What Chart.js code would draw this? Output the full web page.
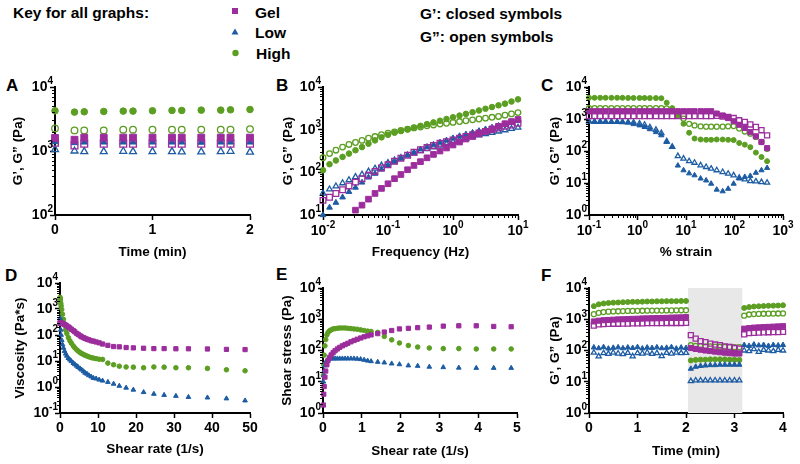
<!DOCTYPE html>
<html>
<head>
<meta charset="utf-8">
<script src="https://cdn.jsdelivr.net/npm/chart.js@4.4.1/dist/chart.umd.min.js"></script>
<style>
    body { margin: 0; width: 800px; height: 464px; background: #fff; position: relative; overflow: hidden;
           font-family: "Liberation Sans", Arial, sans-serif; font-weight: bold; color: #000; }
    .txt { position: absolute; white-space: nowrap; line-height: 1; font-size: 15.5px; }
    .letter { position: absolute; line-height: 1; font-size: 17px; }
    canvas { position: absolute; }
</style>
</head>
<body>
<div class="txt" style="left:13px; top:5px;">Key for all graphs:</div>
<div class="txt" style="left:255px; top:5px;">Gel</div>
<div class="txt" style="left:255px; top:25px;">Low</div>
<div class="txt" style="left:256px; top:45.5px;">High</div>
<div class="txt" style="left:420px; top:6px;">G’: closed symbols</div>
<div class="txt" style="left:420px; top:29px;">G”: open symbols</div>
<svg style="position:absolute; left:0; top:0;" width="300" height="70">
    <rect x="232" y="8" width="6" height="6" fill="#9c2d9c"></rect>
    <polygon points="235,28.5 238.5,34.5 231.5,34.5" fill="#1d5ca3"></polygon>
    <circle cx="235.5" cy="53" r="3.2" fill="#5b9e22"></circle>
</svg>
<div class="letter" style="left:6px; top:77px;">A</div>
<div class="letter" style="left:276px; top:77px;">B</div>
<div class="letter" style="left:541px; top:77px;">C</div>
<div class="letter" style="left:5px; top:267px;">D</div>
<div class="letter" style="left:276px; top:266px;">E</div>
<div class="letter" style="left:541px; top:267px;">F</div>

<script>
// ---- Data ---------------------------------------------------------------
// A: time sweep
const timeA   = [0, 0.2, 0.3, 0.5, 0.7, 0.8, 1.0, 1.2, 1.3, 1.5, 1.7, 1.8, 2.0];
const gelGpA  = [1600, 1500, 1620, 1620, 1620, 1620, 1620, 1620, 1620, 1620, 1620, 1620, 1620];
const gelGppA = [1350, 1220, 1300, 1300, 1300, 1300, 1300, 1300, 1300, 1300, 1300, 1300, 1300];
const lowGpA  = [1400, 1350, 1380, 1380, 1380, 1380, 1380, 1380, 1380, 1370, 1380, 1380, 1380];
const lowGppA = [1050, 1000, 980, 980, 990, 980, 980, 980, 970, 970, 980, 990, 960];
const highGpA = [4250, 4050, 4100, 4150, 4200, 4200, 4250, 4300, 4300, 4350, 4350, 4400, 4450];
const highGppA = [2250, 2100, 2100, 2100, 2150, 2150, 2150, 2150, 2150, 2150, 2150, 2150, 2200];

// B: frequency sweep
const freqB = [0.01, 0.0126, 0.0158, 0.02, 0.0251, 0.0316, 0.0398, 0.0501, 0.0631, 0.0794, 0.1,
    0.126, 0.158, 0.2, 0.251, 0.316, 0.398, 0.501, 0.631, 0.794, 1, 1.26, 1.58, 2, 2.51, 3.16,
    3.98, 5.01, 6.31, 7.94, 10];
const gelGpB = [null, null, null, null, null, 13, 17, 23.5, 32, 42, 54, 71, 89, 115, 145, 178,
    219, 263, 316, 372, 437, 513, 603, 692, 794, 912, 1047, 1202, 1380, 1549, 1738];
const gelGppB = [22, 26, 32, 39, 48, 59, 71, 85, 105, 126, 151, 182, 214, 251, 295, 339, 380,
    427, 479, 525, 575, 631, 692, 759, 832, 912, 1000, 1096, 1202, 1288, 1413];
const lowGpB = [10, 15, 19.5, 26, 35, 44, 58, 76, 93, 117, 145, 174, 209, 251, 295, 347, 398,
    447, 501, 562, 631, 708, 776, 851, 933, 1023, 1122, 1230, 1349, 1479, 1622];
const lowGppB = [32, 40, 47, 56, 66, 78, 89, 105, 123, 145, 166, 191, 219, 251, 282, 316, 355,
    389, 427, 468, 513, 562, 617, 676, 741, 794, 851, 912, 977, 1047, 1122];
const highGpB = [112, 155, 190, 230, 275, 330, 390, 470, 560, 660, 760, 850, 930, 1020, 1120,
    1230, 1350, 1480, 1620, 1780, 1950, 2140, 2340, 2570, 2820, 3090, 3390, 3720, 4070, 4570, 5130];
const highGppB = [220, 275, 330, 390, 450, 500, 560, 630, 690, 760, 830, 890, 955, 1020, 1100,
    1150, 1230, 1290, 1350, 1410, 1480, 1550, 1620, 1700, 1780, 1860, 1950, 2040, 2190, 2340, 2510];

// C: strain sweep
const strainC = [0.1, 0.13, 0.17, 0.22, 0.29, 0.38, 0.49, 0.64, 0.83, 1.1, 1.4, 1.8, 2.4, 3.1,
    4.0, 5.2, 6.8, 8.9, 11.6, 15, 20, 26, 33, 43, 57, 74, 96, 125, 163, 212, 276, 360, 470];
const gelGpC = [1750, 1750, 1750, 1750, 1750, 1750, 1750, 1750, 1750, 1750, 1750, 1750, 1750,
    1750, 1750, 1750, 1750, 1750, 1750, 1750, 1750, 1750, 1750, 1480, 1290, 1070, 851, 661, 525,
    389, 288, 191, 123];
const gelGppC = [1230, 1230, 1230, 1230, 1230, 1230, 1230, 1230, 1230, 1230, 1230, 1230, 1230,
    1230, 1230, 1230, 1230, 1230, 1230, 1230, 1230, 1230, 1230, 1260, 1200, 1150, 1070, 912, 813,
    676, 562, 447, 309];
const lowGpC = [851, 813, 813, 813, 813, 813, 813, 776, 692, 631, 562, 479, 389, 309, 191, 135,
    35, 25, 20, 17.4, 13.8, 12, 9.5, 6.2, 5.5, 6.6, 9.5, 13.8, 15.5, 16.6, 20.9, 25, 29.5];
const lowGppC = [851, 830, 830, 830, 820, 810, 800, 790, 780, 724, 661, 550, 457, 363, 200, 135,
    69, 58, 48, 43, 35.5, 31.6, 28, 25, 22, 19.5, 17.4, 14.5, 12.9, 11.5, 11.2, 10.7, 10.2];
const highGpC = [4600, 4600, 4600, 4600, 4600, 4600, 4600, 4550, 4550, 4550, 4550, 4500, 4500,
    4450, 3240, 2190, 1290, 708, 372, 245, 229, 224, 224, 229, 229, 224, 219, 178, 158, 132, 89,
    65, 48];
const highGppC = [2200, 2200, 2200, 2200, 2200, 2200, 2200, 2200, 2200, 2200, 2200, 2200, 2200,
    2200, 2140, 1860, 1480, 1020, 708, 631, 589, 575, 575, 575, 575, 589, 603, 501, 407, 347, 275,
    191, 117];

// D: viscosity vs shear rate
const rateD = [0.02, 0.05, 0.1, 0.2, 0.3, 0.45, 0.65, 0.9, 1.2, 1.5, 1.8, 2.2, 2.6, 3.0, 3.5,
    3.9, 4.4, 4.8, 5.3, 5.7, 6.2, 6.6, 7.1, 7.6, 8.2, 8.8, 9.5, 10.3, 11.2, 12.6, 14.1, 15.6,
    17.4, 19.3, 22, 24.7, 27.4, 30.5, 33.8, 38.8, 43.8, 48.7];
const gelVisD = [295, 295, 295, 290, 290, 280, 275, 270, 257, 240, 224, 204, 186, 166, 148, 132,
    115, 105, 93, 85, 79, 74, 69, 65, 60, 58, 54, 50, 45, 40, 36, 35, 33, 32, 31, 30, 30, 29.5,
    29.5, 29, 28, 27.5];
const lowVisD = [450, 355, 263, 158, 100, 63, 43, 32, 24, 19, 15.8, 12.9, 11.2, 9.8, 8.3, 7.4,
    6.5, 5.8, 5.1, 4.6, 4.0, 3.5, 3.2, 2.8, 2.5, 2.2, 2.1, 1.9, 1.74, 1.55, 1.32, 1.1, 0.93, 0.78,
    0.63, 0.54, 0.49, 0.45, 0.41, 0.39, 0.36, 0.30];
const highVisD = [2800, 2500, 2140, 1660, 1320, 955, 630, 400, 240, 158, 115, 79, 60, 48, 38, 32,
    27, 24, 21, 19.5, 17.8, 16.6, 15.5, 14.5, 13.5, 12.9, 12.3, 11.7, 11.5, 8.3, 7.2, 6.3, 5.9,
    5.8, 5.5, 5.9, 5.8, 5.5, 5.5, 5.2, 4.6, 4.2];

// E: shear stress vs shear rate
const rateE = [0.01, 0.02, 0.03, 0.05, 0.07, 0.1, 0.13, 0.17, 0.21, 0.26, 0.31, 0.37, 0.43, 0.5,
    0.57, 0.64, 0.72, 0.8, 0.88, 0.97, 1.06, 1.15, 1.24, 1.41, 1.58, 1.77, 1.97, 2.2, 2.44, 2.74,
    3.1, 3.5, 3.95, 4.4, 4.85];
const gelStressE = [1.8, 4, 7, 14, 22, 35, 48, 60, 72, 85, 98, 112, 126, 141, 155, 170, 190, 209,
    229, 251, 275, 295, 316, 347, 389, 436, 490, 513, 537, 562, 603, 617, 617, 589, 575];
const lowStressE = [10, 16, 22, 33, 42, 48, 52, 55, 55, 55, 55, 55, 55, 55, 55, 55, 55, 55, 54,
    52.5, 50, 47, 45, 43, 41, 38, 36, 33, 32, 30, 29, 28, 27.5, 27.5, 27.5];
const highStressE = [16, 35, 71, 141, 224, 316, 380, 427, 457, 490, 501, 513, 525, 525, 525, 513,
    501, 490, 479, 457, 436, 417, 407, 380, 282, 219, 174, 145, 129, 120, 115, 115, 112, 112, 112];

// F: recovery test (low / high / low strain)
const timeF = [0.1, 0.2, 0.3, 0.4, 0.5, 0.6, 0.7, 0.8, 0.9, 1.0, 1.1, 1.2, 1.3, 1.4, 1.5, 1.6,
    1.7, 1.8, 1.9, 2.0, 2.1, 2.2, 2.3, 2.4, 2.5, 2.6, 2.7, 2.8, 2.9, 3.0, 3.1, 3.2, 3.3, 3.4, 3.5,
    3.6, 3.7, 3.8, 3.9, 4.0];
const gelGpF = [850, 900, 930, 950, 970, 990, 1000, 1010, 1030, 1040, 1060, 1070, 1080, 1090,
    1100, 1110, 1130, 1140, 1150, 1170, 120, 112, 106, 100, 96, 92, 88, 85, 82, 80, 80, 500, 520,
    540, 550, 560, 570, 580, 590, 600];
const gelGppF = [630, 690, 700, 710, 720, 720, 730, 730, 740, 740, 740, 750, 750, 750, 750, 760,
    760, 760, 760, 770, 310, 240, 200, 186, 166, 155, 148, 135, 129, 120, 115, 330, 360, 370, 375,
    380, 385, 390, 390, 395];
const lowGpF = [125, 118, 128, 115, 122, 126, 118, 125, 120, 128, 116, 124, 120, 126, 118, 122,
    128, 115, 124, 120, 26, 30, 32, 33, 34, 34, 35, 35, 35, 35, 35, 150, 140, 155, 145, 150, 140,
    150, 145, 150];
const lowGppF = [85, 65, 82, 78, 85, 80, 76, 84, 65, 82, 80, 86, 78, 82, 66, 84, 80, 85, 82, 84,
    10.5, 11, 11, 11, 11, 11, 11, 11, 11, 11, 11, 100, 95, 110, 90, 105, 100, 95, 105, 100];
const highGpF = [2630, 3000, 3200, 3310, 3400, 3450, 3500, 3550, 3600, 3600, 3650, 3700, 3700,
    3750, 3750, 3800, 3800, 3800, 3850, 3850, 48, 50, 51, 51, 52, 52, 52, 52, 51, 51, 50, 2300,
    2450, 2550, 2600, 2650, 2700, 2720, 2750, 2800];
const highGppF = [1450, 1600, 1700, 1750, 1780, 1800, 1820, 1840, 1850, 1860, 1870, 1880, 1890,
    1900, 1900, 1910, 1920, 1930, 1940, 1940, 148, 140, 138, 136, 135, 133, 132, 131, 130, 128, 128,
    1300, 1420, 1460, 1480, 1500, 1510, 1520, 1530, 1540];
const highStrainF = [2.04, 3.16];   // shaded high-strain interval (min)

// Tick values
const decadesA = [1e2, 1e3, 1e4];
const decadesB = [1e1, 1e2, 1e3, 1e4];
const freqTicksB = [0.01, 0.1, 1, 10];
const decadesC = [1, 1e1, 1e2, 1e3, 1e4];
const strainTicksC = [0.1, 1, 10, 100, 1000];
const decadesD = [0.1, 1, 1e1, 1e2, 1e3, 1e4];
const decadesEF = [1, 1e1, 1e2, 1e3, 1e4];

// ---- Style ----------------------------------------------------------------
const GEL = "#9c2d9c";
const LOW = "#1d5ca3";
const HIGH = "#5b9e22";
const MINOR_LEN = 3;
const FAMILY = "'Liberation Sans', Arial, sans-serif";
const BASE_FONT = "bold 14px " + FAMILY;
const EXP_FONT = "bold 10px " + FAMILY;

Chart.defaults.font.family = FAMILY;
Chart.defaults.font.weight = "bold";
Chart.defaults.color = "#000";

// minor ticks + "10^n" labels on log axes
const logDecor = {
    id: "logDecor",
    afterDraw(chart) {
        const ctx = chart.ctx;
        ctx.save();
        ctx.strokeStyle = "#000";
        ctx.fillStyle = "#000";
        ctx.lineWidth = 1;
        ctx.textBaseline = "middle";
        ctx.textAlign = "left";
        Object.values(chart.scales).forEach((s) => {
            if (s.type !== "logarithmic") return;
            const lo = Math.round(Math.log10(s.min));
            const hi = Math.round(Math.log10(s.max));
            for (let e = lo; e < hi; e++) {
                for (let m = 2; m <= 9; m++) {
                    const p = Math.round(s.getPixelForValue(m * Math.pow(10, e))) + 0.5;
                    ctx.beginPath();
                    if (s.isHorizontal()) { ctx.moveTo(p, s.top); ctx.lineTo(p, s.top + MINOR_LEN); }
                    else { ctx.moveTo(s.right, p); ctx.lineTo(s.right - MINOR_LEN, p); }
                    ctx.stroke();
                }
            }
            s.ticks.forEach((t) => {
                const p = s.getPixelForValue(t.value);
                const exp = String(Math.round(Math.log10(t.value)));
                ctx.font = BASE_FONT;
                const w1 = ctx.measureText("10").width;
                ctx.font = EXP_FONT;
                const w2 = ctx.measureText(exp).width;
                let x, y;
                if (s.isHorizontal()) { x = p - (w1 + w2) / 2; y = s.top + 16; }
                else { x = s.right - 2 - w1 - w2; y = p; }
                ctx.font = BASE_FONT;
                ctx.fillText("10", x, y);
                ctx.font = EXP_FONT;
                ctx.fillText(exp, x + w1, y - 5.5);
            });
        });
        ctx.restore();
    },
};

// grey band behind the points (panel F)
const shade = {
    id: "shade",
    beforeDatasetsDraw(chart, args, opts) {
        if (!opts.range) return;
        const { ctx, chartArea: a, scales } = chart;
        const x0 = scales.x.getPixelForValue(opts.range[0]);
        const x1 = scales.x.getPixelForValue(opts.range[1]);
        ctx.save();
        ctx.fillStyle = opts.color;
        ctx.fillRect(x0, a.top, x1 - x0, a.bottom - a.top);
        ctx.restore();
    },
};
Chart.register(logDecor, shade);

// ---- Builders -------------------------------------------------------------
function series(xs, ys, color, style, open, r) {
    return {
        data: xs.map((x, i) => ({ x, y: ys[i] })).filter((p) => p.y != null),
        showLine: false,
        pointStyle: style,
        pointRadius: r,
        pointHoverRadius: r,
        pointBackgroundColor: open ? "rgba(255,255,255,0)" : color,
        pointBorderColor: color,
        pointBorderWidth: open ? 1.3 : 1,
        clip: false,
    };
}

function axis(isX, size, title, titlePad, extra) {
    return Object.assign({
        border: { display: true, color: "#000", width: 2 },
        grid: { display: true, drawOnChartArea: false, drawTicks: true, tickLength: 5, tickWidth: 1.5, tickColor: "#000" },
        title: { display: true, text: title, color: "#000", font: { size: 13.5, weight: "bold" },
                 padding: isX ? { top: 0, bottom: titlePad } : { top: titlePad, bottom: 0 } },
        afterFit: (s) => { if (isX) s.height = size; else s.width = size; },
    }, extra);
}

function logAxis(isX, size, title, titlePad, min, max, ticks) {
    return axis(isX, size, title, titlePad, {
        type: "logarithmic", min, max,
        afterBuildTicks: (s) => { s.ticks = ticks.map((v) => ({ value: v })); },
        ticks: { display: false },
    });
}

function linAxis(size, title, titlePad, min, max, step) {
    return axis(true, size, title, titlePad, {
        type: "linear", min, max,
        ticks: { color: "#000", font: { size: 14, weight: "bold" }, padding: 2, maxRotation: 0,
                 autoSkip: false, stepSize: step },
    });
}

// rect: canvas box [l, t, r, b]; area: plot box [l, t, r, b]; titles: [yTitleCenterX, xTitleCenterY]
function panel(rect, area, titles, xCfg, yCfg, datasets, shadeOpts) {
    const cv = document.createElement("canvas");
    cv.width = rect[2] - rect[0];
    cv.height = rect[3] - rect[1];
    cv.style.left = rect[0] + "px";
    cv.style.top = rect[1] + "px";
    document.body.appendChild(cv);
    const yW = area[0] - rect[0];
    const xH = rect[3] - area[3];
    const half = 13.5 * 1.2 / 2;
    new Chart(cv, {
        type: "scatter",
        data: { datasets },
        options: {
            responsive: false,
            animation: false,
            devicePixelRatio: 1,
            layout: { padding: { left: 0, top: area[1] - rect[1], right: rect[2] - area[2], bottom: 0 } },
            plugins: { legend: { display: false }, tooltip: { enabled: false }, shade: shadeOpts || {} },
            scales: {
                x: xCfg(xH, rect[3] - titles[1] - half),
                y: yCfg(yW, titles[0] - rect[0] - half),
            },
        },
    });
}

function sixSeries(xs, g1, g2, l1, l2, h1, h2, sz) {
    return [
        series(xs, g1, GEL, "rect", false, sz.rect),
        series(xs, g2, GEL, "rect", true, sz.rect),
        series(xs, l1, LOW, "triangle", false, sz.tri),
        series(xs, l2, LOW, "triangle", true, sz.tri),
        series(xs, h1, HIGH, "circle", false, sz.circ),
        series(xs, h2, HIGH, "circle", true, sz.circ),
    ];
}

const GP = "G\u2019, G\u201D (Pa)";

// ---- Panels -------------------------------------------------------------
panel([0, 72, 265, 272], [55, 87, 250, 215], [18, 252],
    (h, p) => linAxis(h, "Time (min)", p, 0, 2, 1),
    (w, p) => logAxis(false, w, GP, p, 1e2, 1e4, decadesA),
    sixSeries(timeA, gelGpA, gelGppA, lowGpA, lowGppA, highGpA, highGppA, { rect: 4.8, tri: 4, circ: 3.3 }));

panel([265, 72, 535, 272], [323, 87, 518, 215], [288, 252],
    (h, p) => logAxis(true, h, "Frequency (Hz)", p, 0.01, 10, freqTicksB),
    (w, p) => logAxis(false, w, GP, p, 1e1, 1e4, decadesB),
    sixSeries(freqB, gelGpB, gelGppB, lowGpB, lowGppB, highGpB, highGppB, { rect: 4, tri: 3.3, circ: 2.8 }));

panel([530, 72, 800, 272], [589, 87, 783, 215], [555, 252],
    (h, p) => logAxis(true, h, "% strain", p, 0.1, 1000, strainTicksC),
    (w, p) => logAxis(false, w, GP, p, 1, 1e4, decadesC),
    sixSeries(strainC, gelGpC, gelGppC, lowGpC, lowGppC, highGpC, highGppC, { rect: 3.6, tri: 3, circ: 2.5 }));

panel([0, 272, 265, 464], [60, 283, 250, 413], [20, 449],
    (h, p) => linAxis(h, "Shear rate (1/s)", p, 0, 50, 10),
    (w, p) => logAxis(false, w, "Viscosity (Pa*s)", p, 0.1, 1e4, decadesD),
    [
        series(rateD, gelVisD, GEL, "rect", false, 3),
        series(rateD, lowVisD, LOW, "triangle", false, 2.7),
        series(rateD, highVisD, HIGH, "circle", false, 2.3),
    ]);

panel([265, 272, 535, 464], [323, 288, 517, 413], [287, 451],
    (h, p) => linAxis(h, "Shear rate (1/s)", p, 0, 5, 1),
    (w, p) => logAxis(false, w, "Shear stress (Pa)", p, 1, 1e4, decadesEF),
    [
        series(rateE, gelStressE, GEL, "rect", false, 3),
        series(rateE, lowStressE, LOW, "triangle", false, 2.7),
        series(rateE, highStressE, HIGH, "circle", false, 2.3),
    ]);

panel([530, 272, 800, 464], [589, 288, 783, 413], [555, 451],
    (h, p) => linAxis(h, "Time (min)", p, 0, 4, 1),
    (w, p) => logAxis(false, w, GP, p, 1, 1e4, decadesEF),
    sixSeries(timeF, gelGpF, gelGppF, lowGpF, lowGppF, highGpF, highGppF, { rect: 3.6, tri: 3, circ: 2.5 }),
    { range: highStrainF, color: "#e8e8e8" });
</script>
</body>
</html>
